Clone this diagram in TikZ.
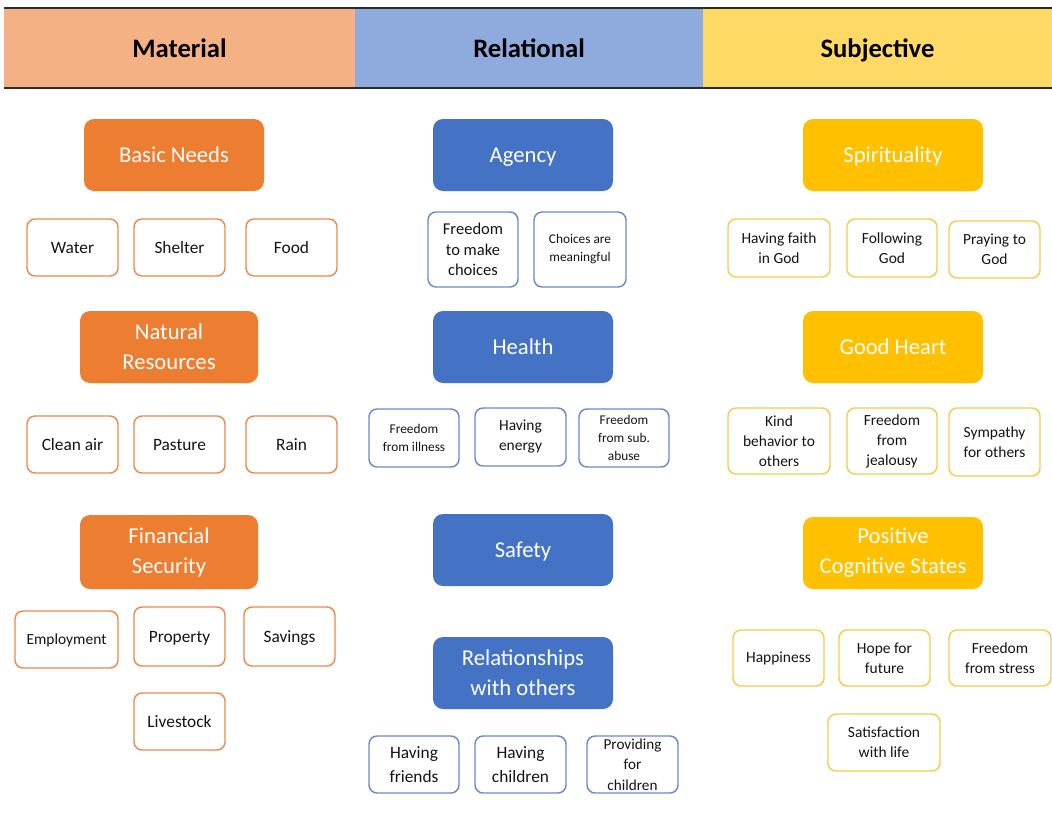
\documentclass[tikz,border=0pt]{standalone}
\usepackage{fontspec}
\setmainfont{Carlito}
% box given by its corners (x1,y1) (x2,y2) in pixel units
\newcommand\bx[7]{\node[#2, minimum width={(#5-#3)*0.75pt}, minimum height={(#6-#4)*0.75pt}] (#1) at ({(#3+#5)/2},{(#4+#6)/2}) {#7};}
\definecolor{matHead}{HTML}{F4B183}
\definecolor{relHead}{HTML}{8FAADC}
\definecolor{subHead}{HTML}{FFD966}
\definecolor{matMain}{HTML}{ED7D31}
\definecolor{relMain}{HTML}{4472C4}
\definecolor{subMain}{HTML}{FFC000}
\definecolor{matLine}{HTML}{EE8A4E}
\definecolor{relLine}{HTML}{6A8ACB}
\definecolor{subLine}{HTML}{F7CB4D}
\definecolor{rule}{HTML}{2B2B2B}
\begin{document}
\begin{tikzpicture}[x=0.75pt,y=-0.75pt,
  head/.style={inner sep=0pt, outer sep=0pt, font=\fontsize{20}{24}\selectfont\bfseries,
    text=black, text height=14pt, text depth=0pt},
  mainbox/.style={inner sep=0pt, rounded corners=7.5pt, text=white, align=center,
    font=\fontsize{17}{22.5}\selectfont},
  mat/.style={mainbox, fill=matMain},
  rel/.style={mainbox, fill=relMain},
  sbj/.style={mainbox, fill=subMain},
  % single-line labels: descenders do not shift the text
  oneM/.style={text height=11.6pt, text depth=0pt},
  oneA/.style={text height=9.1pt, text depth=0pt},
  subbox/.style={inner sep=0pt, rounded corners=6pt, fill=white, line width=1.1pt, align=center, text=black!92},
  msub/.style={subbox, draw=matLine},
  rsub/.style={subbox, draw=relLine},
  ssub/.style={subbox, draw=subLine},
  fsA/.style={font=\fontsize{13}{17.5}\selectfont},
  fsB/.style={font=\fontsize{11.6}{15}\selectfont},
  fsC/.style={font=\fontsize{10}{13.5}\selectfont},
  fsD/.style={font=\fontsize{12.4}{15.4}\selectfont},
]
\useasboundingbox (0,0) rectangle (1052,817);
\fill[white] (0,0) rectangle (1052,817);

% column headings
\bx{matH}{head, fill=matHead}{4}{8}{355}{88}{Material}
\bx{relH}{head, fill=relHead}{355}{8}{703}{88}{Relational}
\bx{sbjH}{head, fill=subHead}{703}{8}{1052}{88}{Subjective}
\draw[rule, line width=1.4pt] (matH.north west) -- (sbjH.north east);
\draw[rule, line width=2.2pt] (matH.south west) -- (sbjH.south east);

% Material
\bx{basic}{mat, oneM}{84}{119}{264}{191}{Basic Needs}
\bx{water}{msub, fsA, oneA}{27}{219}{118}{276}{Water}
\bx{shelter}{msub, fsA, oneA}{134}{219}{225}{276}{Shelter}
\bx{food}{msub, fsA, oneA}{246}{219}{337}{276}{Food}
\bx{natural}{mat}{80}{311}{258}{383}{Natural\\Resources}
\bx{air}{msub, fsA, oneA}{27}{416}{118}{473}{Clean air}
\bx{pasture}{msub, fsA, oneA}{134}{416}{225}{473}{Pasture}
\bx{rain}{msub, fsA, oneA}{246}{416}{337}{473}{Rain}
\bx{financial}{mat}{80}{515}{258}{589}{Financial\\Security}
\bx{employ}{msub, font=\fontsize{11.6}{14}\selectfont, text height=8.1pt, text depth=0pt}{15}{611}{118}{668}{Employment}
\bx{property}{msub, fsA, oneA}{134}{607}{225}{666}{Property}
\bx{savings}{msub, fsA, oneA}{244}{607}{335}{666}{Savings}
\bx{livestock}{msub, fsA, oneA}{134}{693}{225}{750}{Livestock}

% Relational
\bx{agency}{rel, oneM}{433}{119}{613}{191}{Agency}
\bx{freechoice}{rsub, fsD}{428}{212}{518}{287}{Freedom\\to make\\choices}
\bx{meaningful}{rsub, fsC}{534}{212}{626}{287}{Choices are\\meaningful}
\bx{health}{rel, oneM}{433}{311}{613}{383}{Health}
\bx{illness}{rsub, fsC}{369}{409}{459}{467}{Freedom\\from illness}
\bx{energy}{rsub, fsB}{475}{408}{566}{466}{Having\\energy}
\bx{abuse}{rsub, fsC}{579}{409}{669}{467}{Freedom\\from sub.\\abuse}
\bx{safety}{rel, oneM}{433}{514}{613}{586}{Safety}
\bx{relation}{rel}{433}{637}{613}{709}{Relationships\\with others}
\bx{friends}{rsub, fsA}{369}{736}{459}{793}{Having\\friends}
\bx{children}{rsub, fsA}{475}{736}{566}{793}{Having\\children}
\bx{providing}{rsub, font=\fontsize{11.4}{15.4}\selectfont}{587}{736}{678}{793}{Providing\\for\\children}

% Subjective
\bx{spirit}{sbj, oneM}{803}{119}{983}{191}{Spirituality}
\bx{faith}{ssub, fsB}{728}{219}{830}{277}{Having faith\\in God}
\bx{following}{ssub, fsB}{847}{219}{937}{277}{Following\\God}
\bx{praying}{ssub, fsB}{949}{221}{1040}{278}{Praying to\\God}
\bx{heart}{sbj, oneM}{803}{311}{983}{383}{Good Heart}
\bx{kind}{ssub, fsB}{728}{408}{830}{474}{Kind\\behavior to\\others}
\bx{jealousy}{ssub, fsB}{847}{408}{937}{474}{Freedom\\from\\jealousy}
\bx{sympathy}{ssub, fsB}{949}{408}{1040}{476}{Sympathy\\for others}
\bx{cognitive}{sbj}{803}{517}{983}{589}{Positive\\Cognitive States}
\bx{happy}{ssub, fsB}{733}{630}{824}{686}{Happiness}
\bx{hope}{ssub, fsB}{839}{630}{930}{686}{Hope for\\future}
\bx{stress}{ssub, fsB}{949}{630}{1051}{686}{Freedom\\from stress}
\bx{satisfy}{ssub, fsB}{828}{714}{940}{771}{Satisfaction\\with life}
\end{tikzpicture}
\end{document}
